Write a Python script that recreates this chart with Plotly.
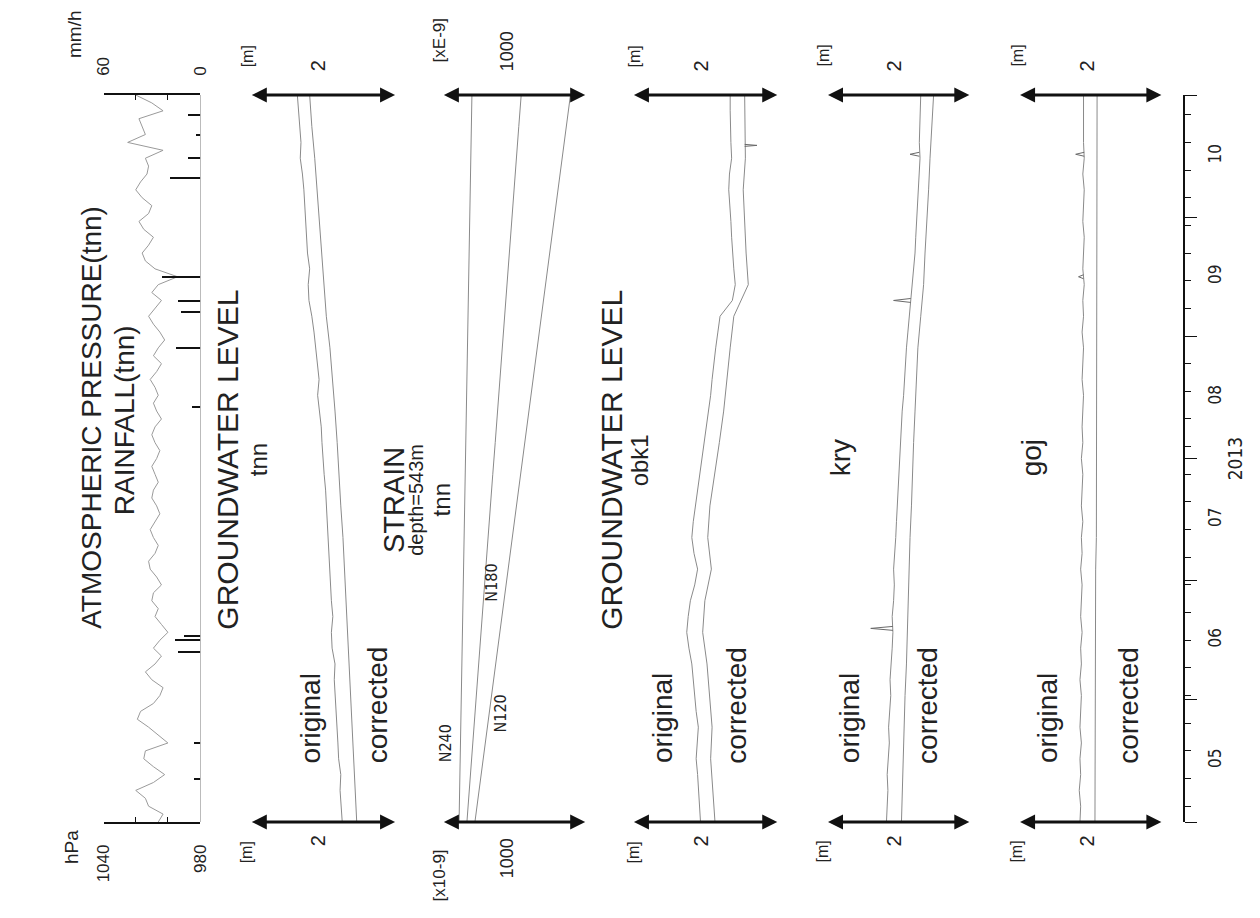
import plotly.graph_objects as go
import pandas as pd

# ---------------- data ----------------
START, END = "2013-05-01", "2013-11-01"
dates_2d = pd.date_range(START, periods=93, freq="2D")   # every 2 days
dates_4d = pd.date_range(START, periods=47, freq="4D")   # every 4 days
dates_8d = pd.date_range(START, periods=24, freq="8D")   # every 8 days

pressure_hpa = [
    1006, 1003, 1012, 1014, 1020, 1009, 1002, 1009, 1015, 1014, 1000, 1006, 1012, 1019, 1017, 1009,
    1005, 1003, 1010, 1014, 1008, 1004, 1009, 1005, 1000, 1004, 1008, 1006, 1010, 1009, 1004, 1007,
    1011, 1012, 1008, 1006, 1009, 1011, 1008, 1005, 1007, 1010, 1009, 1006, 1008, 1010, 1007, 1005,
    1008, 1010, 1008, 1004, 1007, 1009, 1006, 1008, 1011, 1007, 1004, 1009, 1006, 1002, 1005, 1009,
    1012, 1008, 1004, 1010, 1006, 994, 1008, 1014, 1016, 1012, 1009, 1015, 1018, 1012, 1010, 1016,
    1020, 1017, 1013, 1012, 1014, 1003, 1025, 1014, 1016, 1018, 1003, 1010, 1020,
]

rain_dates = ["2013-05-12", "2013-05-21", "2013-06-13", "2013-06-16", "2013-06-17", "2013-08-14",
              "2013-08-29", "2013-09-07", "2013-09-10", "2013-09-16", "2013-10-11", "2013-10-16",
              "2013-10-22", "2013-10-27"]
rain_mmh = [4, 4, 14, 16, 10, 5, 15, 12, 14, 24, 19, 8, 3, 8]

# groundwater level tnn [m, relative to the 2 m scale bar]
gw_tnn_original = [1.27, 1.25, 1.24, 1.25, 1.22, 1.21, 1.20, 1.19, 1.18, 1.16,
                   1.17, 1.13, 1.12, 1.14, 1.12, 1.11, 1.10, 1.09, 1.08, 1.06,
                   1.05, 1.04, 1.02, 1.00, 0.99, 0.98, 0.96, 0.93, 0.95, 0.93,
                   0.91, 0.88, 0.85, 0.81, 0.80, 0.82, 0.79, 0.78, 0.76, 0.75,
                   0.74, 0.72, 0.69, 0.70, 0.68, 0.66, 0.65]
gw_tnn_corrected = [1.47, 1.45, 1.43, 1.41, 1.39, 1.37, 1.35, 1.33, 1.31, 1.28, 1.25, 1.23,
                    1.20, 1.17, 1.14, 1.10, 1.05, 1.02, 0.99, 0.96, 0.93, 0.89, 0.85, 0.82]

# strain tnn [x1e-9, relative]
strain_n240 = [117, 121, 125, 129, 133, 137, 141, 145, 149, 153, 157, 161,
               165, 169, 173, 177, 181, 185, 189, 193, 197, 200, 204, 207]
strain_n180 = [172, 188, 205, 221, 238, 254, 271, 287, 304, 320, 337, 353,
               370, 386, 403, 419, 436, 452, 469, 485, 502, 518, 535, 552]
strain_n120 = [228, 257, 286, 315, 344, 373, 402, 431, 460, 489, 518, 547,
               576, 605, 634, 663, 692, 721, 750, 779, 808, 837, 866, 897]

# groundwater level obk1
gw_obk1_original = [0.94, 0.93, 0.92, 0.90, 0.88, 0.90, 0.91, 0.88, 0.86, 0.84,
                    0.82, 0.78, 0.75, 0.77, 0.80, 0.86, 0.90, 0.85, 0.82, 0.84,
                    0.87, 0.90, 0.94, 0.97, 1.00, 1.03, 1.06, 1.08, 1.10, 1.12,
                    1.15, 1.18, 1.21, 1.38, 1.42, 1.40, 1.38, 1.37, 1.36, 1.35,
                    1.33, 1.34, 1.37, 1.36, 1.35, 1.35, 1.35]
gw_obk1_corrected = [1.14, 1.11, 1.08, 1.10, 1.06, 1.03, 0.97, 1.00, 1.09, 1.04, 1.07, 1.14,
                     1.20, 1.26, 1.30, 1.35, 1.40, 1.60, 1.57, 1.55, 1.53, 1.56, 1.55, 1.55]
obk1_spike_dates = ["2013-10-19 00:00", "2013-10-19 06:00", "2013-10-19 12:00"]
obk1_spike_values = [1.55, 1.72, 1.55]

# groundwater level kry
gw_kry_original = [0.84, 0.85, 0.86, 0.85, 0.87, 0.88, 0.87, 0.89, 0.90, 0.89,
                   0.91, 0.92, 0.93, 0.92, 0.94, 0.95, 0.94, 0.96, 0.97, 0.98,
                   0.99, 1.00, 1.01, 1.02, 1.04, 1.05, 1.06, 1.08, 1.09, 1.10,
                   1.12, 1.14, 1.16, 1.19, 1.21, 1.22, 1.24, 1.25, 1.26, 1.27,
                   1.28, 1.29, 1.31, 1.30, 1.31, 1.32, 1.32]
gw_kry_corrected = [1.05, 1.06, 1.08, 1.09, 1.10, 1.12, 1.13, 1.14, 1.16, 1.17, 1.19, 1.20,
                    1.22, 1.24, 1.26, 1.28, 1.32, 1.36, 1.38, 1.41, 1.43, 1.45, 1.48, 1.50]
kry_spike_dates = ["2013-06-18 12:00", "2013-06-19 00:00", "2013-06-19 12:00",
                   "2013-09-09 12:00", "2013-09-10 00:00", "2013-09-10 12:00",
                   "2013-10-16 12:00", "2013-10-17 00:00", "2013-10-17 12:00"]
kry_spike_values = [0.93, 0.62, 0.93, 1.18, 0.94, 1.18, 1.30, 1.17, 1.30]

# groundwater level goj
gw_goj_original = [0.86, 0.87, 0.85, 0.87, 0.86, 0.88, 0.86, 0.87, 0.88, 0.86,
                   0.88, 0.87, 0.89, 0.87, 0.88, 0.89, 0.87, 0.89, 0.88, 0.90,
                   0.88, 0.89, 0.90, 0.88, 0.90, 0.89, 0.90, 0.91, 0.89, 0.90,
                   0.91, 0.89, 0.91, 0.90, 0.92, 0.90, 0.91, 0.92, 0.90, 0.91,
                   0.92, 0.90, 0.92, 0.91, 0.91, 0.92, 0.91]
gw_goj_corrected = [1.07, 1.07, 1.07, 1.08, 1.08, 1.08, 1.08, 1.08, 1.08, 1.09, 1.09, 1.09,
                    1.09, 1.09, 1.09, 1.09, 1.10, 1.10, 1.10, 1.10, 1.10, 1.10, 1.10, 1.10]
goj_spike_dates = ["2013-09-15 12:00", "2013-09-16 00:00", "2013-09-16 12:00",
                   "2013-10-16 12:00", "2013-10-17 00:00", "2013-10-17 12:00"]
goj_spike_values = [0.91, 0.84, 0.91, 0.92, 0.80, 0.92]

# ---------------- layout helpers ----------------
W, H = 1260, 918
TOP, BOT = 95, 822
LABEL_DX = -4


def paper(xp, yp):
    return (xp + LABEL_DX) / W, (BOT - yp) / (BOT - TOP)


FONT = "Liberation Sans, Arial, sans-serif"
NARROW = "Liberation Sans Narrow, DejaVu Sans Condensed, Roboto Condensed, Liberation Sans"
LINE = "#8a8a8a"

fig = go.Figure()

# atmospheric pressure and rainfall
fig.add_trace(go.Scatter(x=pressure_hpa, y=dates_2d, xaxis="x", yaxis="y", mode="lines",
                         line=dict(color="#9a9a9a", width=1)))
fig.add_trace(go.Bar(x=rain_mmh, y=pd.to_datetime(rain_dates), xaxis="x2", yaxis="y",
                     orientation="h", width=0.35 * 86400000,
                     marker=dict(color="#111", line=dict(width=0))))

# groundwater / strain panels
series = [
    ("x3", gw_tnn_original, dates_4d), ("x3", gw_tnn_corrected, dates_8d),
    ("x4", strain_n240, dates_8d), ("x4", strain_n180, dates_8d), ("x4", strain_n120, dates_8d),
    ("x5", gw_obk1_original, dates_4d), ("x5", gw_obk1_corrected, dates_8d),
    ("x6", gw_kry_original, dates_4d), ("x6", gw_kry_corrected, dates_8d),
    ("x7", gw_goj_original, dates_4d), ("x7", gw_goj_corrected, dates_8d),
]
for xa, vals, dts in series:
    fig.add_trace(go.Scatter(x=vals, y=dts, xaxis=xa, yaxis="y", mode="lines",
                             line=dict(color=LINE, width=1)))

# short spikes (three points each)
for xa, sd, sv in [("x5", obk1_spike_dates, obk1_spike_values),
                   ("x6", kry_spike_dates, kry_spike_values),
                   ("x7", goj_spike_dates, goj_spike_values)]:
    for i in range(0, len(sd), 3):
        fig.add_trace(go.Scatter(x=sv[i:i + 3], y=pd.to_datetime(sd[i:i + 3]), xaxis=xa, yaxis="y",
                                 mode="lines", line=dict(color="#6a6a6a", width=1)))

# panel geometry (arrow extents in px) and scale
panel_px = {"x3": (245, 392, 2), "x4": (440, 585, 1000), "x5": (633, 780, 2),
            "x6": (830, 975, 2), "x7": (1025, 1170, 2)}

layout_axes = {}
for xa, (a, b, sc) in panel_px.items():
    key = "xaxis" + xa[1:]
    layout_axes[key] = dict(domain=[a / W, b / W], range=[0, sc], visible=False,
                            anchor="y", fixedrange=True)

annotations = []
# double headed scale arrows at top and bottom of each panel
for xa, (a, b, sc) in panel_px.items():
    for d in (START, END):
        annotations.append(dict(x=sc, y=d, ax=0, ay=d, xref=xa, yref="y", axref=xa, ayref="y",
                                text="", showarrow=True, arrowhead=2, arrowside="end+start",
                                arrowsize=1, arrowwidth=3, arrowcolor="#111",
                                standoff=0, startstandoff=0))


def label(text, xp, yp, size, font=FONT, color="#222"):
    x, y = paper(xp, yp)
    annotations.append(dict(text=text, x=x, y=y, xref="paper", yref="paper", showarrow=False,
                            textangle=-90, xanchor="center", yanchor="middle",
                            font=dict(family=font, size=size, color=color)))


# titles
label("ATMOSPHERIC PRESSURE(tnn)", 87, 417, 28)
label("RAINFALL(tnn)", 121, 420, 28)
label("GROUNDWATER LEVEL", 226, 460, 30)
label("tnn", 258, 460, 24)
label("STRAIN", 395, 500, 29)
label("depth=543m", 417, 500, 20)
label("tnn", 443, 500, 24)
label("GROUNDWATER LEVEL", 616, 460, 30)
label("obk1", 645, 460, 24)
label("kry", 848, 458, 28)
label("goj", 1042, 458, 28)

# original / corrected
for xo, xc in [(310, 378), (667, 742), (857, 936), (1058, 1140)]:
    label("original", xo, 718, 28)
    label("corrected", xc, 705, 28)

# strain series names
label("N240", 447, 743, 16, NARROW)
label("N180", 493, 583, 16, NARROW)
label("N120", 503, 713, 16, NARROW)

# scale labels
for unit_x, mid_x in [(246, 318), (639, 707), (830, 903), (1027, 1098)]:
    label("[m]", unit_x, 56, 16)
    label("2", mid_x, 66, 20)
    label("[m]", unit_x, 852, 16)
    label("2", mid_x, 841, 20)
label("[xE-9]", 441, 40, 17)
label("1000", 510, 51, 18)
label("[x10-9]", 441, 875, 17)
label("1000", 510, 858, 18)
label("mm/h", 70, 34, 19)
label("hPa", 67, 847, 19)

fig.update_layout(
    width=W, height=H,
    margin=dict(l=0, r=0, t=TOP, b=H - BOT),
    paper_bgcolor="white", plot_bgcolor="rgba(0,0,0,0)",
    showlegend=False, bargap=0,
    font=dict(family=FONT, color="#222"),
    annotations=annotations,
    xaxis=dict(domain=[96 / W, 194 / W], range=[1040, 980], anchor="y", side="bottom",
               showline=True, linecolor="#111", linewidth=1.5, ticks="inside", ticklen=5,
               tickcolor="#111", tickvals=[1040, 1020, 1000, 980], ticktext=["1040", "", "", "980"],
               tickangle=-90, ticklabelstandoff=14, tickfont=dict(size=17, family=FONT),
               showgrid=False, zeroline=False, fixedrange=True),
    xaxis2=dict(domain=[96 / W, 194 / W], range=[60, 0], anchor="y", side="top", overlaying="x",
                showline=True, linecolor="#111", linewidth=1.5, ticks="inside", ticklen=5,
                tickcolor="#111", tickvals=[60, 40, 20, 0], ticktext=["60", "", "", "0"],
                tickangle=-90, ticklabelstandoff=14, tickfont=dict(size=17, family=FONT),
                showgrid=False, zeroline=True, zerolinecolor="#bbb", zerolinewidth=1,
                fixedrange=True),
    yaxis=dict(type="date", range=[START, END], anchor="free", position=1193 / W, side="right",
               showline=True, linecolor="#111", linewidth=1.5, ticks="outside", ticklen=12,
               tickwidth=1.2, tickcolor="#111", dtick="M1", tick0=START, tickformat="%m",
               ticklabelmode="period", tickangle=-90, ticklabelstandoff=4,
               tickfont=dict(family=NARROW, size=17, color="#222"),
               title=dict(text="2013", font=dict(family=NARROW, size=19, color="#222"), standoff=4),
               minor=dict(ticks="outside", ticklen=6, tickcolor="#111", dtick=7 * 86400000,
                          tick0="2013-05-05", showgrid=False),
               showgrid=False, zeroline=False, fixedrange=True),
    **layout_axes,
)

fig.write_html("out.html", config={"displayModeBar": False},
               post_script="document.body.style.margin='0px';")
